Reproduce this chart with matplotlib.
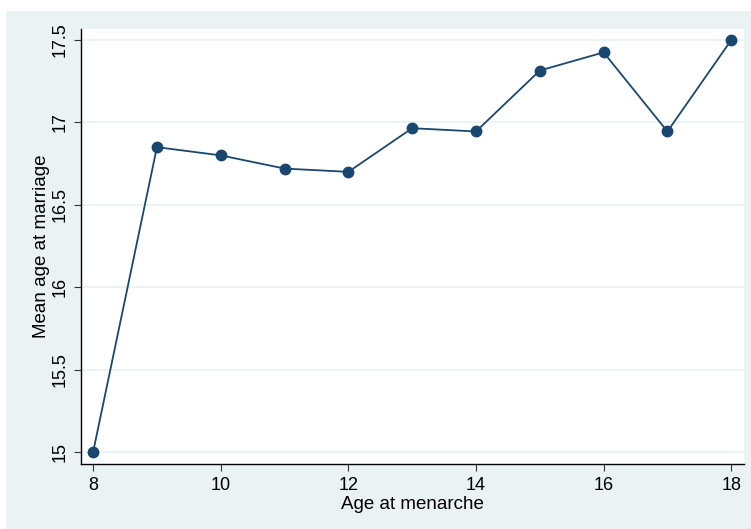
import matplotlib
matplotlib.use("Agg")
import matplotlib.pyplot as plt
from matplotlib.patches import Rectangle

age_menarche = [8, 9, 10, 11, 12, 13, 14, 15, 16, 17, 18]
mean_age_marriage = [15.0, 16.85, 16.80, 16.72, 16.70, 16.965, 16.945, 17.315, 17.425, 16.945, 17.5]
x_ticks = [8, 10, 12, 14, 16, 18]
y_ticks = [15, 15.5, 16, 16.5, 17, 17.5]
y_tick_labels = ["15", "15.5", "16", "16.5", "17", "17.5"]

plt.rcParams["font.family"] = ["Liberation Sans", "DejaVu Sans"]

W, H = 751, 529
fig = plt.figure(figsize=(W / 100, H / 100), dpi=100)
fig.patch.set_facecolor("white")
bg = "#eaf2f3"
navy = "#1a476f"
fig.add_artist(Rectangle((6 / W, 0), 1 - 6 / W, 1 - 11 / H, transform=fig.transFigure,
                         facecolor=bg, edgecolor="none", zorder=0))

left, right, top, bottom = 81, 744, 29, 464
ax = fig.add_axes([left / W, 1 - bottom / H, (right - left) / W, (bottom - top) / H])
ax.set_facecolor("white")

ax.plot(age_menarche, mean_age_marriage, color=navy, linewidth=1.3, marker="o",
        markersize=7.5, markerfacecolor=navy, markeredgecolor=navy, zorder=3, clip_on=False)

ax.set_xlim(7.81, 18.2)
ax.set_ylim(14.927, 17.567)
ax.set_xticks(x_ticks)
ax.set_yticks(y_ticks)
ax.set_yticklabels(y_tick_labels, rotation=90, va="center")
ax.grid(axis="y", color=bg, linewidth=1.3)
ax.set_axisbelow(True)

for s in ["top", "right"]:
    ax.spines[s].set_visible(False)
for s in ["left", "bottom"]:
    ax.spines[s].set_color("black")
    ax.spines[s].set_linewidth(1.0)

ax.tick_params(axis="both", length=5, width=0.8, color="#333333", labelsize=13, pad=4)
ax.set_xlabel("Age at menarche", fontsize=13.5, labelpad=2)
ax.set_ylabel("Mean age at marriage", fontsize=13.5, labelpad=1)

fig.savefig("out.png", dpi=100, facecolor=fig.get_facecolor())
